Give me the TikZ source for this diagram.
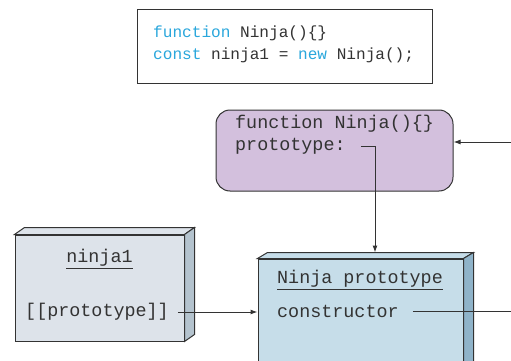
\documentclass[tikz,border=0pt]{standalone}
\usepackage{fontspec}
\setmonofont{Liberation Mono}
\usetikzlibrary{arrows.meta, positioning, calc}
\definecolor{kw}{HTML}{2AA7DC}
\definecolor{ink}{HTML}{333333}
\definecolor{lilac}{HTML}{D3C0DD}
\definecolor{objfront}{HTML}{DDE3EA}
\definecolor{objside}{HTML}{B4C3CE}
\definecolor{protofront}{HTML}{C6DDE9}
\definecolor{protoside}{HTML}{8FB3C9}

\begin{document}
\begin{tikzpicture}[
  x=1pt, y=-1pt,
  codebox/.style={draw=ink, line width=1pt, fill=white, inner sep=0pt,
    minimum width=295pt, minimum height=73pt},
  codetext/.style={text=ink, inner sep=0pt, align=left,
    font=\ttfamily\fontsize{16.1}{22}\selectfont},
  ctorbox/.style={draw=ink, line width=1pt, fill=lilac, rounded corners=14pt,
    minimum width=237pt, minimum height=81pt, inner sep=0pt},
  face/.style={draw=ink, line width=1pt, inner sep=0pt},
  lbl/.style={text=ink, inner sep=2pt, font=\ttfamily\fontsize{18.4}{22}\selectfont},
  link/.style={draw=ink, line width=1pt, -{Latex[length=7pt, width=5pt]}},
  wire/.style={draw=ink, line width=1pt}
]
\useasboundingbox (0,0) rectangle (511,361);
\clip (0,0) rectangle (511,361);

\node[codebox] (code) at (284.5,46.5) {};
\node[codetext, anchor=west] (codetxt) at (153,44.5)
  {\textcolor{kw}{function} Ninja()\{\}\\\textcolor{kw}{const} ninja1 = \textcolor{kw}{new} Ninja();};

\node[ctorbox] (ctor) at (334.5,150.5) {};
\node[lbl, anchor=west] (cfun) at (233,124) {function Ninja()\{\}};
\node[lbl, anchor=west] (cproto) at (233,146) {prototype:};

\node[face, fill=objfront, minimum width=169pt, minimum height=106pt] (obj) at (99.5,288) {};
\filldraw[face, fill=objfront] (obj.north west) -- ++(10,-7) -- ($(obj.north east)+(10,-7)$) -- (obj.north east) -- cycle;
\filldraw[face, fill=objside] (obj.north east) -- ++(10,-7) -- ($(obj.south east)+(10,-7)$) -- (obj.south east) -- cycle;
\node[lbl] (oname) at (99.5,259) {\underline{ninja1}};
\node[lbl] (oslot) at (97,312) {[[prototype]]};

\node[face, fill=protofront, minimum width=205pt, minimum height=150pt] (proto) at (360.5,334) {};
\filldraw[face, fill=protofront] (proto.north west) -- ++(10,-6) -- ($(proto.north east)+(10,-6)$) -- (proto.north east) -- cycle;
\filldraw[face, fill=protoside] (proto.north east) -- ++(10,-6) -- ($(proto.south east)+(10,-6)$) -- (proto.south east) -- cycle;
\node[lbl, anchor=west] (pname) at (275,280) {\underline{Ninja prototype}};
\node[lbl, anchor=west] (pcon) at (275,311) {constructor};

\coordinate (inA) at (511,142);
\coordinate (outC) at (511,313);

\draw[link] (inA) -- (inA -| ctor.east);
\draw[link] ([xshift=13pt]cproto.east) -| ($(proto.north)+(14.5,-6)$);
\draw[link] ([xshift=7pt]oslot.east) -- (oslot.east -| proto.west);
\draw[wire] ([xshift=12pt]pcon.east) -- (pcon.east -| outC);
\end{tikzpicture}
\end{document}
